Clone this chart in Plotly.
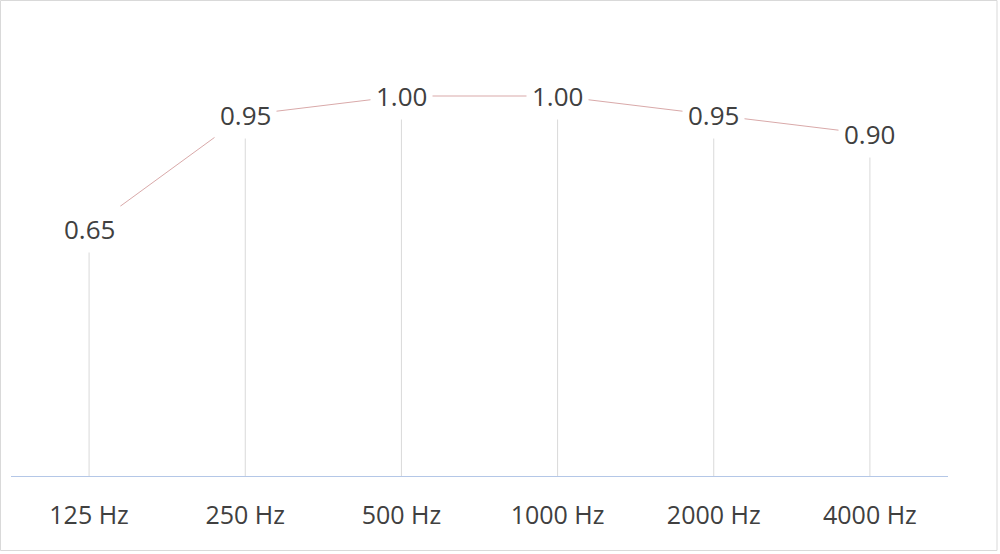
import plotly.graph_objects as go

categories = ["125 Hz", "250 Hz", "500 Hz", "1000 Hz", "2000 Hz", "4000 Hz"]
values = [0.65, 0.95, 1.00, 1.00, 0.95, 0.90]
labels = [f"{v:.2f}" for v in values]

TEXT = "#404040"
FONT = "Open Sans"

fig = go.Figure()

# drop lines from each point to the axis
dx, dy = [], []
for c, v in zip(categories, values):
    dx += [c, c, None]
    dy += [0, v, None]
fig.add_trace(go.Scatter(x=dx, y=dy, mode="lines",
                         line=dict(color="#d9d9d9", width=1),
                         hoverinfo="skip", showlegend=False))

fig.add_trace(go.Scatter(x=categories, y=values, mode="lines",
                         line=dict(color="#d9a9a9", width=1),
                         showlegend=False))

for c, v, t in zip(categories, values, labels):
    fig.add_annotation(x=c, y=v, text=t, showarrow=False,
                       bgcolor="white", borderpad=5,
                       font=dict(family=FONT, size=26, color=TEXT))

L, R, T, B = 11, 52, 20, 78
W, H = 1000, 554
pw, ph = W - L - R, H - T - B
fig.add_shape(type="rect", xref="paper", yref="paper",
              x0=(0.5 - L) / pw, x1=(997 - L) / pw,
              y0=(ph + T - 550.5) / ph, y1=(ph + T - 0.5) / ph,
              line=dict(color="#d9d9d9", width=1), layer="below")

fig.update_layout(
    width=W, height=H,
    margin=dict(l=L, r=R, t=T, b=B, autoexpand=False),
    paper_bgcolor="white", plot_bgcolor="white",
    font=dict(family=FONT, color=TEXT),
    xaxis=dict(type="category", range=[-0.5, len(categories) - 0.5],
               automargin=False, showgrid=False, zeroline=False,
               showline=True, linecolor="#b4c7e7", linewidth=1,
               ticks="", ticklabelstandoff=17,
               tickfont=dict(family=FONT, size=25, color=TEXT)),
    yaxis=dict(range=[0, 1.2], visible=False, showgrid=False, zeroline=False,
               automargin=False),
)

fig.write_html("out.html", config={"displayModeBar": False},
               post_script="document.body.style.margin='0px';document.body.style.overflow='hidden';")
